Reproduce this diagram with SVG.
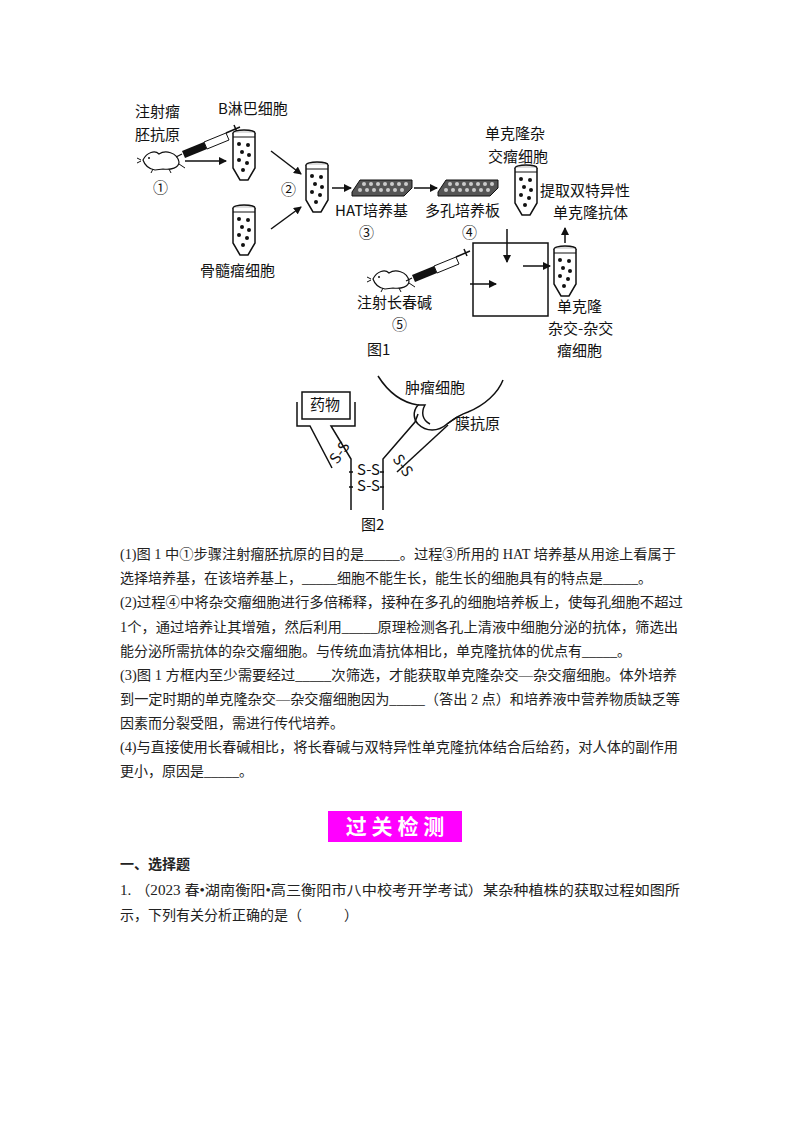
<svg xmlns="http://www.w3.org/2000/svg" width="800" height="1132" viewBox="0 0 800 1132">
<style>
.t{font-family:"Liberation Serif","Noto Sans CJK SC",serif;font-size:14px;fill:#222}
.l{font-family:"Noto Sans CJK SC",sans-serif;font-size:15px;fill:#111}
.s{stroke:#111;stroke-width:1.5;fill:none}
.a{stroke:#111;stroke-width:1.5;fill:none;marker-end:url(#ah)}
</style>
<defs>
<marker id="ah" markerWidth="8" markerHeight="8" refX="7" refY="4" orient="auto" markerUnits="userSpaceOnUse"><path d="M0,0 L8,4 L0,8 z" fill="#111"/></marker>
<g id="tube">
<ellipse cx="12" cy="3" rx="11" ry="3" fill="#ddd" stroke="#111" stroke-width="1.3"/>
<path d="M1,3 V38 L8,50 H16 L23,38 V3" fill="#fff" stroke="#111" stroke-width="1.5"/>
<line x1="1" y1="7" x2="23" y2="7" stroke="#111" stroke-width="1"/>
<g fill="#111"><circle cx="7" cy="14" r="2"/><circle cx="16" cy="15" r="2"/><circle cx="10" cy="22" r="2"/><circle cx="17" cy="25" r="2"/><circle cx="7" cy="30" r="2"/><circle cx="15" cy="33" r="2"/><circle cx="11" cy="40" r="2"/></g>
</g>
<g id="plate">
<path d="M0,12 L8,0 H60 L60,8 L52,16 H0 z" fill="#555" stroke="#111"/>
<g fill="#ccc"><circle cx="12" cy="4" r="2"/><circle cx="19" cy="4" r="2"/><circle cx="26" cy="4" r="2"/><circle cx="33" cy="4" r="2"/><circle cx="40" cy="4" r="2"/><circle cx="47" cy="4" r="2"/><circle cx="54" cy="4" r="2"/>
<circle cx="8" cy="10" r="2"/><circle cx="15" cy="10" r="2"/><circle cx="22" cy="10" r="2"/><circle cx="29" cy="10" r="2"/><circle cx="36" cy="10" r="2"/><circle cx="43" cy="10" r="2"/><circle cx="50" cy="10" r="2"/></g>
</g>
<g id="mouse">
<path d="M2,12 C6,4 14,2 18,6 C24,2 36,4 38,14 C38,20 30,22 22,21 L14,22 C8,21 4,18 2,12 z" fill="#fff" stroke="#111" stroke-width="1.2"/>
<circle cx="8" cy="10" r="1" fill="#111"/><path d="M0,12 L-4,10 M0,13 L-4,15" stroke="#111"/>
<path d="M12,21 L10,25 M28,21 L30,25 M38,16 L44,20" stroke="#111"/>
</g>
<g id="syr">
<path d="M0,0 L-6,3" stroke="#111" stroke-width="1.2"/>
<path d="M0,-3 L22,-12 L25,-5 L3,4 z" fill="#111"/>
<path d="M22,-12 L44,-21 L47,-14 L25,-5 z" fill="#fff" stroke="#111"/>
<path d="M44,-21 L58,-27 M52,-29 L55,-22" stroke="#111" stroke-width="1.5"/>
</g>
</defs>
<rect width="800" height="1132" fill="#fff"/>

<g id="fig1">
<g id="n-mouse1"><use href="#mouse" x="141" y="148"/><text class="l" x="135" y="117">注射瘤</text><text class="l" x="135" y="140">胚抗原</text><text class="l" x="153" y="193">①</text></g>
<g id="n-syr1"><use href="#syr" x="182" y="154"/></g>
<g id="n-btube"><use href="#tube" x="232" y="130"/><text class="l" x="218" y="114">B淋巴细胞</text></g>
<g id="n-mtube"><use href="#tube" x="232" y="205"/><text class="l" x="200" y="276">骨髓瘤细胞</text></g>
<g id="n-tube2"><use href="#tube" x="305" y="162"/><text class="l" x="281" y="195">②</text></g>
<g id="n-plate1"><use href="#plate" x="352" y="180"/><text class="l" x="335" y="216">HAT培养基</text><text class="l" x="359" y="238">③</text></g>
<g id="n-plate2"><use href="#plate" x="438" y="180"/><text class="l" x="425" y="216">多孔培养板</text><text class="l" x="462" y="238">④</text></g>
<g id="n-tube4"><use href="#tube" x="514" y="165"/><text class="l" x="485" y="139">单克隆杂</text><text class="l" x="488" y="162">交瘤细胞</text></g>
<g id="n-ab"><text class="l" x="540" y="196">提取双特异性</text><text class="l" x="553" y="218">单克隆抗体</text></g>
<g id="n-box"><rect x="473" y="243" width="75" height="73" fill="none" stroke="#111" stroke-width="1.5"/></g>
<g id="n-tube5"><use href="#tube" x="553" y="246"/><text class="l" x="557" y="312">单克隆</text><text class="l" x="548" y="334">杂交-杂交</text><text class="l" x="557" y="356">瘤细胞</text></g>
<g id="n-mouse2"><use href="#mouse" x="371" y="267"/><use href="#syr" x="412" y="278"/><text class="l" x="357" y="308">注射长春碱</text><text class="l" x="392" y="330">⑤</text><text class="l" x="367" y="355">图1</text></g>
</g>

<g id="connectors">
<line class="a" x1="185" y1="161" x2="226" y2="161"/>
<line class="a" x1="271" y1="151" x2="301" y2="174"/>
<line class="a" x1="271" y1="229" x2="301" y2="207"/>
<line class="a" x1="332" y1="188" x2="351" y2="188"/>
<line class="a" x1="414" y1="188" x2="437" y2="188"/>
<line class="a" x1="507" y1="229" x2="507" y2="262"/>
<line class="a" x1="523" y1="266" x2="550" y2="266"/>
<line class="a" x1="470" y1="284" x2="496" y2="284"/>
<line class="a" x1="565" y1="243" x2="565" y2="228"/>
</g>

<g id="fig2">
<path class="s" d="M378,376 C390,395 405,403 418,405 C412,412 414,420 418,424 C426,432 438,432 447,424 C455,418 462,414 468,412 C485,405 498,393 503,380"/>
<path class="s" d="M418,405 L425,405 C421,412 422,420 430,424"/>
<text class="l" x="405" y="393" font-size="13">肿瘤细胞</text>
<path class="s" d="M447,424 L457,417"/>
<text class="l" x="455" y="429" font-size="13">膜抗原</text>
<rect x="302" y="392" width="48" height="27" fill="#fff" stroke="#111" stroke-width="1.5"/>
<text class="l" x="310" y="410" font-size="13">药物</text>
<path class="s" d="M297,402 V426 H310 L332,468"/>
<path class="s" d="M355,402 V426 H331 L351,459 V510"/>
<path class="s" d="M383,510 V459 L415,422 L418,414"/>
<path class="s" d="M397,472 L448,425"/>
<text class="l" x="335" y="461" font-size="8" transform="rotate(-55 340 461)">S-S</text>
<text class="l" x="392" y="459" font-size="8" transform="rotate(55 392 459)">S-S</text>
<text class="l" x="357" y="475" font-size="9">S-S</text>
<text class="l" x="357" y="491" font-size="9">S-S</text>
<path class="s" d="M349,472 h4 M349,487 h4 M380,472 h4 M380,487 h4"/>
<text class="l" x="361" y="530">图2</text>
</g>

<g id="text">
<text class="t" x="120" y="559" textLength="556" lengthAdjust="spacingAndGlyphs">(1)图 1 中①步骤注射瘤胚抗原的目的是_____。过程③所用的 HAT 培养基从用途上看属于</text>
<text class="t" x="120" y="583">选择培养基，在该培养基上，_____细胞不能生长，能生长的细胞具有的特点是_____。</text>
<text class="t" x="120" y="607" textLength="563" lengthAdjust="spacingAndGlyphs">(2)过程④中将杂交瘤细胞进行多倍稀释，接种在多孔的细胞培养板上，使每孔细胞不超过</text>
<text class="t" x="120" y="632" textLength="558" lengthAdjust="spacingAndGlyphs">1个，通过培养让其增殖，然后利用_____原理检测各孔上清液中细胞分泌的抗体，筛选出</text>
<text class="t" x="120" y="656">能分泌所需抗体的杂交瘤细胞。与传统血清抗体相比，单克隆抗体的优点有_____。</text>
<text class="t" x="120" y="680" textLength="557" lengthAdjust="spacingAndGlyphs">(3)图 1 方框内至少需要经过_____次筛选，才能获取单克隆杂交—杂交瘤细胞。体外培养</text>
<text class="t" x="120" y="704" textLength="560" lengthAdjust="spacingAndGlyphs">到一定时期的单克隆杂交—杂交瘤细胞因为_____（答出 2 点）和培养液中营养物质缺乏等</text>
<text class="t" x="120" y="728">因素而分裂受阻，需进行传代培养。</text>
<text class="t" x="120" y="752" textLength="558" lengthAdjust="spacingAndGlyphs">(4)与直接使用长春碱相比，将长春碱与双特异性单克隆抗体结合后给药，对人体的副作用</text>
<text class="t" x="120" y="776">更小，原因是_____。</text>
</g>

<g id="banner">
<rect x="328" y="811" width="134" height="31" fill="#f0f"/>
<text x="395" y="834" text-anchor="middle" font-family="Noto Sans CJK SC,sans-serif" font-size="21" font-weight="bold" fill="#fff">过 关 检 测</text>
</g>
<text class="t" x="120" y="869" font-weight="bold" font-family="Noto Sans CJK SC,sans-serif">一、选择题</text>
<text class="t" x="120" y="895" textLength="560" lengthAdjust="spacingAndGlyphs">1.  （2023 春•湖南衡阳•高三衡阳市八中校考开学考试）某杂种植株的获取过程如图所</text>
<text class="t" x="120" y="920">示，下列有关分析正确的是（&#160;&#160;&#160;&#160;&#160;&#160;&#160;&#160;&#160;&#160;&#160;&#160;）</text>
</svg>
